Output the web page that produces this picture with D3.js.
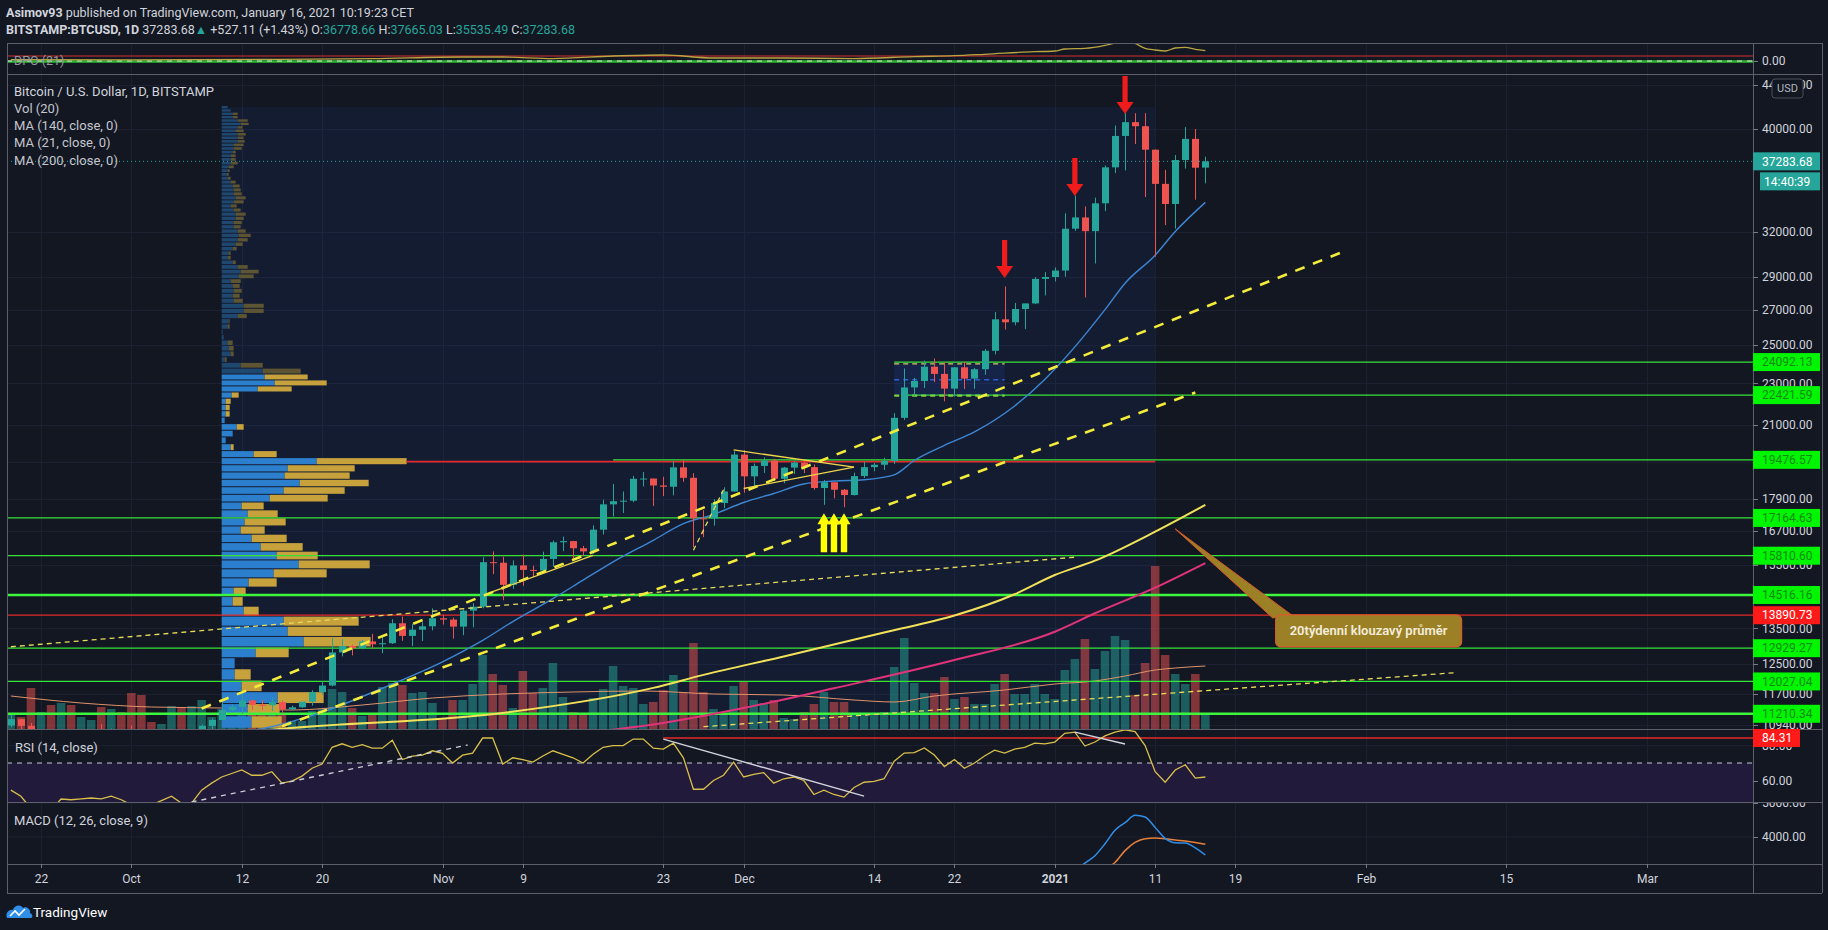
<!DOCTYPE html>
<html>
<head>
<meta charset="utf-8">
<title>BTCUSD 1D</title>
<script src="https://cdn.jsdelivr.net/npm/d3@7/dist/d3.min.js"></script>
<style>
  html, body { margin: 0; padding: 0; background: #131722; overflow: hidden; }
  svg { display: block; }
  text { font-family: Roboto, "Open Sans", sans-serif; }
</style>
</head>
<body>
<svg id="chart" width="1828" height="930"></svg>
<script>
// ---------- data ----------
var firstDay = "2020-09-19", lastDay = "2021-01-16";

var opens = [10930,11080,10920,10420,10530,10240,10740,10690,10730,10775,
  10700,10840,10780,10620,10570,10550,10670,10790,10600,10670,
  10920,11060,11300,11380,11540,11430,11420,11500,11320,11370,
  11510,11750,11920,12810,12990,12930,13120,13040,13070,13650,
  13280,13460,13560,13800,13760,13550,14030,14150,15590,15570,
  14840,15480,15330,15310,15700,16280,16320,16070,15960,16730,
  17680,17800,17820,18690,18700,18420,18370,19160,18730,17150,
  17140,17730,18180,19700,18790,19220,19450,18690,19150,19360,
  19170,18320,18550,18250,18040,18800,19170,19270,19430,21340,
  22800,23120,23850,23480,22740,23820,23240,23720,24690,26440,
  26270,27040,27370,28870,28990,29400,32200,33000,32030,34030,
  36800,39400,40600,40240,38240,35500,33980,37390,39150,36778.66];
var highs = [11180,11080,10990,10580,10540,10780,10790,10800,10800,10960,
  10860,10850,10930,10670,10600,10690,10800,10800,10680,10950,
  11100,11480,11440,11720,11560,11550,11620,11540,11410,11490,
  11800,12030,13220,13190,13030,13170,13340,13250,13770,13850,
  13640,13680,14100,13900,13820,14070,14260,15760,15960,15770,
  15650,15850,15470,15950,16340,16480,16330,16150,16890,17860,
  18480,18180,18810,18970,18700,18770,19420,19480,18920,17460,
  17880,18350,19850,19890,19320,19580,19520,19180,19420,19410,
  19280,18640,18560,18280,18940,19400,19340,19570,21560,23760,
  23280,24170,24280,24080,23830,24110,23790,24780,26870,28400,
  27400,27370,28990,29300,29600,33300,34600,33800,34450,36950,
  40300,41500,41400,41400,38260,36600,37800,40170,40000,37665.03];
var lows = [10890,10760,10290,10360,10140,10200,10580,10650,10600,10650,
  10640,10650,10450,10370,10500,10520,10600,10520,10560,10550,
  10830,11060,11280,11210,11300,11300,11280,11220,11300,11350,
  11410,11690,11900,12700,12730,12900,12920,12790,13050,13140,
  12990,13130,13440,13610,13200,13300,13530,14100,15190,14350,
  14710,14810,15090,15280,15440,15970,15710,15800,15870,16560,
  17220,17350,17760,18380,17620,18000,18030,18570,16100,16460,
  16880,17540,18180,18130,18340,18930,18600,18510,18890,18920,
  18250,17660,17910,17570,18020,18720,19000,19050,19300,21240,
  22350,22770,23070,22120,22350,22720,22730,23440,24500,25860,
  26100,25880,27330,27850,28710,29000,32050,27730,29860,33450,
  36350,36550,38720,34500,30300,32450,32200,36700,34300,35535.49];
var closes = [11080,10920,10420,10530,10240,10740,10690,10730,10775,10700,
  10840,10780,10620,10570,10550,10670,10790,10600,10670,10920,
  11060,11300,11380,11540,11430,11420,11500,11320,11370,11510,
  11750,11920,12810,12990,12930,13120,13040,13070,13650,13280,
  13460,13560,13800,13760,13550,14030,14150,15590,15570,14840,
  15480,15330,15310,15700,16280,16320,16070,15960,16730,17680,
  17800,17820,18690,18700,18420,18370,19160,18730,17150,17140,
  17730,18180,19700,18790,19220,19450,18690,19150,19360,19170,
  18320,18550,18250,18040,18800,19170,19270,19430,21340,22800,
  23120,23850,23480,22740,23820,23240,23720,24690,26440,26270,
  27040,27370,28870,28990,29400,32200,33000,32030,34030,36800,
  39400,40600,40240,38240,35500,33980,37390,39150,36770,37283.68];
var volumes = [3750,3000,10250,4250,6000,6500,6000,3000,2250,5500,5000,4250,9000,8500,1750,1250,5750,5500,5750,7250,
  3000,5000,3000,5500,3750,3500,4000,3750,2000,2000,4500,5000,10000,9250,5250,3250,3750,10500,11500,11000,
  9000,9250,6500,2500,7250,7250,11250,18500,13750,11000,5250,14500,9000,10250,16500,8000,4250,3500,7750,10000,
  15750,10750,10250,6250,6750,9750,13500,9250,21500,9250,5000,3750,10750,11750,7250,6500,7250,2750,2500,4250,
  6250,9250,6750,6750,3750,4000,3500,4250,15500,22750,11500,9000,9000,13000,7500,8000,6250,6250,11250,13750,
  8750,8750,11250,8750,7500,14750,17500,22500,15000,19500,23250,22250,8500,16500,40750,18500,13750,11250,13750,3500];
var rsiValues = [54.5,51,44,46,43,49.4,49,49.5,50,49.5,51,49,46,45,46,48.5,51,47,47,54.5,
  58.5,62,64,66,63,63,65,58.5,59.7,62.5,67,69.4,79,81,79,80.5,78.5,78.5,83,72,
  74,74.5,77,75.5,70,74.5,75.7,84.3,84.3,69.4,73,72,70.5,74,77,75,73,70,75,79,
  80,80,83.7,83.7,78.5,78,81.4,73,55,55,60,63,70.5,62,63.5,64.5,58.5,61,62,60,
  52,54.5,52,50.5,56,59,59.5,61,71,75.7,76,78.6,74.6,68,72,67,70,74,77.4,75.7,
  78,79,81.4,81,82,87,87.7,79.7,82,85.5,87.7,89,88,80,65,59,66,69,61.4,62];

// moving averages [date, value]
var ma140 = [["2020-09-19",10150],["2020-10-01",10450],["2020-10-16",10850],["2020-11-07",11230],
  ["2020-11-22",11860],["2020-11-27",12200],["2020-12-05",12700],["2020-12-15",13380],["2020-12-22",13880],
  ["2020-12-28",14540],["2021-01-01",15160],["2021-01-05",15640],["2021-01-11",16660],["2021-01-16",17660]];
var ma200 = [["2020-10-01",9800],["2020-11-01",10350],["2020-11-17",10800],["2020-11-22",10950],
  ["2020-12-01",11350],["2020-12-10",11850],["2020-12-22",12600],["2021-01-01",13400],["2021-01-05",13950],
  ["2021-01-11",14750],["2021-01-16",15560]];
var ma21 = [["2020-10-08",10700],["2020-10-14",10850],["2020-10-20",11250],["2020-10-26",11850],["2020-11-01",12550],
  ["2020-11-05",13150],["2020-11-08",13700],["2020-11-12",14400],["2020-11-15",14990],["2020-11-18",15600],
  ["2020-11-22",16350],["2020-11-25",16950],["2020-11-28",17300],["2020-12-01",17750],["2020-12-04",18100],
  ["2020-12-07",18480],["2020-12-10",18600],["2020-12-13",18650],["2020-12-16",18850],["2020-12-18",19450],
  ["2020-12-21",20100],["2020-12-24",20700],["2020-12-28",21900],["2020-12-31",23200],["2021-01-03",24900],
  ["2021-01-06",27000],["2021-01-08",28600],["2021-01-11",30400],["2021-01-13",32000],["2021-01-16",34100]];
var volMa = [["2020-09-19",8250],["2020-09-26",6500],["2020-10-03",5500],["2020-10-10",5250],["2020-10-17",4750],
  ["2020-10-24",6000],["2020-10-31",7750],["2020-11-07",8750],["2020-11-14",9250],["2020-11-21",9500],
  ["2020-11-28",8750],["2020-12-05",8500],["2020-12-12",7250],["2020-12-16",6750],["2020-12-20",8250],
  ["2020-12-27",9750],["2021-01-01",11250],["2021-01-05",12000],["2021-01-08",13250],["2021-01-11",14750],
  ["2021-01-13",15250],["2021-01-16",15750]];

// DPO / MACD [date, value]
var dpo = [["2020-09-19",700],["2020-10-01",600],["2020-10-15",800],["2020-10-25",1200],["2020-11-03",2000],
  ["2020-11-07",2000],["2020-11-12",1200],["2020-11-18",2500],["2020-11-23",3000],["2020-11-28",1500],
  ["2020-12-05",1500],["2020-12-12",1200],["2020-12-18",2200],["2020-12-22",2650],["2020-12-25",3350],
  ["2020-12-30",4650],["2021-01-01",5000],["2021-01-02",6000],["2021-01-04",6300],["2021-01-06",7800],
  ["2021-01-07",9000],["2021-01-08",10500],["2021-01-09",8800],["2021-01-10",6300],["2021-01-11",5500],
  ["2021-01-12",5000],["2021-01-13",6500],["2021-01-14",6800],["2021-01-15",5800],["2021-01-16",5200]];
var macdLine = [["2021-01-01",2700],["2021-01-02",2850],["2021-01-03",3000],["2021-01-04",3230],["2021-01-05",3450],
  ["2021-01-06",3800],["2021-01-07",4200],["2021-01-08",4420],["2021-01-09",4640],["2021-01-10",4590],
  ["2021-01-11",4280],["2021-01-12",3960],["2021-01-13",3830],["2021-01-14",3820],["2021-01-15",3680],["2021-01-16",3470]];
var macdSignal = [["2021-01-04",2750],["2021-01-05",2900],["2021-01-06",3050],["2021-01-07",3250],["2021-01-08",3600],
  ["2021-01-09",3840],["2021-01-10",3950],["2021-01-11",3970],["2021-01-12",3945],["2021-01-13",3910],
  ["2021-01-14",3880],["2021-01-15",3840],["2021-01-16",3790]];

// fixed range volume profile (rows of 300 USD from vpBase upwards)
var vpFrom = "2020-10-10", vpTo = "2021-01-11", vpHigh = 41950, vpBase = 10550, vpStep = 300, vpValueTop = 23450;
var vpUp = [25,30,26,56,20,13,13,34,82,66, 62,22,11,12,27,52,77,55,39,30, 19,23,26,20,48,62,78,63,66,95,
  32,9,4,11,15,3,4,4,4,10, 36,53,43,41,19,3,9,7,6,2, 1,6,7,16,22,22,12,11,12,11,
  9,17,19,16,11,6,7,11,14,16, 17,16,12,12,14,14,12,9,12,14, 12,12,11,9,6,5,6,7,9,9,
  9,11,12,12,16,16,16,14,16,19, 16,11,11,9,6];
var vpDown = [25,30,32,46,20,16,0,33,67,54, 75,15,10,12,28,53,71,41,42,35, 24,41,30,22,58,61,69,65,67,90,
  23,3,0,0,7,0,4,4,5,7, 34,52,43,38,22,2,3,5,5,0, 0,2,1,9,20,20,9,7,8,7,
  10,15,18,10,3,3,2,4,7,10, 12,8,7,8,8,10,7,6,10,10, 8,7,7,5,3,2,2,5,7,5,
  5,3,8,10,7,6,8,8,5,8, 10,5,5,0,0];

// horizontal levels
var greenLevels = [24092.13, 22421.59, 19476.57, 17164.63, 15810.60, 14516.16, 12929.27, 12027.04, 11210.34];
var greenLevelStarts = ["2020-12-16", "2020-12-17", "2020-11-18", null, null, null, null, null, null];
var redLevels = [13890.73];
var rsiLevel = 84.31, rsiLevelStart = "2020-11-23";
var lastPrice = 37283.68, countdown = "14:40:39";

// drawings: [date, price]
var thickDashed = [
  { from: ["2020-10-08", 11340], to: ["2021-01-30", 30700] },
  { from: ["2020-10-16", 10910], to: ["2021-01-15", 22550] }];
var thinDashed = [
  { from: ["2020-09-19", 12970], to: ["2021-01-03", 15760] },
  { from: ["2020-11-27", 10900], to: ["2021-02-10", 12260] },
  { from: ["2020-11-26", 16000], to: ["2020-11-29", 18250] }];
var thinSolid = [
  { from: ["2020-11-30", 19900], to: ["2020-12-12", 19170] },
  { from: ["2020-12-01", 18300], to: ["2020-12-12", 19170] },
  { from: ["2020-11-06", 14620], to: ["2020-11-16", 15820] }];
var rangeBox = { from: "2020-12-16", to: "2020-12-27", top: 24000, mid: 23180, bottom: 22400 };
var downArrows = [["2020-12-27", 28930], ["2021-01-03", 34570], ["2021-01-08", 41330]];
var upArrows = [["2020-12-09", 17340], ["2020-12-10", 17340], ["2020-12-11", 17340]];
var callout = { text: "20týdenní klouzavý průměr", tip: ["2021-01-13", 16760], box: ["2021-01-23", 13900] };
var rsiDashed = [{ from: ["2020-10-07", 47.7], to: ["2020-11-03T12:00", 80.3] }];
var rsiSolid = [
  { from: ["2020-11-23", 83.7], to: ["2020-12-13", 51.1] },
  { from: ["2021-01-03", 87.7], to: ["2021-01-08", 80.9] }];

// axes
var priceTicks = [44000, 40000, 32000, 29000, 27000, 25000, 23000, 21000, 19400, 17900, 16700, 15500, 14500, 13500, 12500, 11700, 10940];
var rsiTicks = [80, 60];
var macdTicks = [5000, 4000];
var timeTickDates = ["2020-09-22","2020-10-01","2020-10-12","2020-10-20","2020-11-01","2020-11-09","2020-11-23","2020-12-01",
  "2020-12-14","2020-12-22","2021-01-01","2021-01-11","2021-01-19","2021-02-01","2021-02-15","2021-03-01"];
var timeTickLabels = ["22","Oct","12","20","Nov","9","23","Dec","14","22","2021","11","19","Feb","15","Mar"];

// ---------- layout ----------
var W = 1828, H = 930, L = 7, R = 1822, AX = 1753;
var P = { dpo: [43, 74], main: [74, 729], rsi: [729, 802], macd: [802, 864], time: [864, 893] };
var col = {
  bg: "#131722", text: "#d1d4dc", dim: "#b2b5be", grid: "#1c2030", border: "#5d606b",
  up: "#26a69a", down: "#ef5350", lime: "#00f500", limeLine: "#36e336", red: "#f21c1c"
};

function parse(s) { return new Date(s.length > 10 ? s + "Z" : s + "T00:00:00Z"); }
var days = d3.utcDays(parse(firstDay), d3.utcDay.offset(parse(lastDay), 1));

var x = d3.scaleUtc().domain([parse("2020-09-22"), parse("2021-03-01")]).range([41, 1647]);
var step = x(parse("2020-09-23")) - x(parse("2020-09-22"));
var y = d3.scaleLog().domain([10940, 40000]).range([725, 129]);
var yVol = d3.scaleLinear().domain([0, d3.max(volumes)]).range([P.main[1], 566]);
var yRsi = d3.scaleLinear().domain([60, 84.31]).range([780.5, 738]);
var yMacd = d3.scaleLinear().domain([4000, 5000]).range([837, 803]);
var yDpo = d3.scaleLinear().domain([0, 10000]).range([61, 41]);

var svg = d3.select("#chart");
svg.append("rect").attr("width", W).attr("height", H).attr("fill", col.bg);

var defs = svg.append("defs");
Object.keys(P).forEach(function (k) {
  defs.append("clipPath").attr("id", "clip-" + k).append("rect")
    .attr("x", L + 1).attr("y", P[k][0] + 1).attr("width", AX - L - 1).attr("height", P[k][1] - P[k][0] - 1);
});
function pane(k) { return svg.append("g").attr("clip-path", "url(#clip-" + k + ")"); }
function seg(g, s, sx, sy) {
  return g.append("line")
    .attr("x1", sx(parse(s.from[0]))).attr("y1", sy(s.from[1]))
    .attr("x2", sx(parse(s.to[0]))).attr("y2", sy(s.to[1]));
}
function pathOf(sy) {
  return d3.line().x(function (d) { return x(parse(d[0])); }).y(function (d) { return sy(d[1]); }).curve(d3.curveMonotoneX);
}

// ---------- grid ----------
var grid = svg.append("g").attr("stroke", col.grid).attr("stroke-width", 1);
timeTickDates.forEach(function (d) {
  var gx = Math.round(x(parse(d))) + 0.5;
  grid.append("line").attr("x1", gx).attr("x2", gx).attr("y1", P.dpo[0]).attr("y2", P.macd[1]);
});
priceTicks.forEach(function (p) {
  var gy = Math.round(y(p)) + 0.5;
  grid.append("line").attr("x1", L).attr("x2", AX).attr("y1", gy).attr("y2", gy);
});
rsiTicks.forEach(function (v) {
  grid.append("line").attr("x1", L).attr("x2", AX).attr("y1", yRsi(v)).attr("y2", yRsi(v));
});
macdTicks.forEach(function (v) {
  grid.append("line").attr("x1", L).attr("x2", AX).attr("y1", yMacd(v)).attr("y2", yMacd(v));
});

// ---------- main pane ----------
var gMain = pane("main");
var vpX0 = x(parse(vpFrom)), vpX1 = x(parse(vpTo));
gMain.append("rect").attr("x", vpX0).attr("y", y(vpHigh)).attr("width", vpX1 - vpX0)
  .attr("height", P.main[1] - y(vpHigh)).attr("fill", "rgba(41,98,255,0.07)");

// volume
gMain.append("g").selectAll("rect").data(days).join("rect")
  .attr("x", function (d) { return x(d) - (step - 1.5) / 2; })
  .attr("width", step - 1.5)
  .attr("y", function (d, i) { return yVol(volumes[i]); })
  .attr("height", function (d, i) { return P.main[1] - yVol(volumes[i]); })
  .attr("fill", function (d, i) { return closes[i] >= opens[i] ? "rgba(38,166,154,0.5)" : "rgba(239,83,80,0.5)"; });
gMain.append("path").attr("d", pathOf(yVol)(volMa)).attr("fill", "none").attr("stroke", "#e0946a").attr("stroke-width", 1);

// volume profile
var vpTotals = vpUp.map(function (v, i) { return v + vpDown[i]; });
var xv = d3.scaleLinear().domain([0, d3.max(vpTotals)]).range([0, 185]);
var gVp = gMain.append("g");
vpUp.forEach(function (v, i) {
  var lo = vpBase + i * vpStep, hi = lo + vpStep;
  var y0 = y(lo), y1 = y(hi), bright = lo < vpValueTop;
  var hgt = Math.max(0.8, y0 - y1 - 1);
  gVp.append("rect").attr("x", vpX0).attr("y", y1).attr("width", xv(v)).attr("height", hgt)
    .attr("fill", bright ? "#2b7fcd" : "#1f4870");
  gVp.append("rect").attr("x", vpX0 + xv(v)).attr("y", y1).attr("width", xv(vpDown[i])).attr("height", hgt)
    .attr("fill", bright ? "#c6a13c" : "#5d5433");
});
var poc = d3.maxIndex(vpTotals);
var pocPrice = vpBase + (poc + 0.5) * vpStep;
gMain.append("line").attr("x1", vpX0 + xv(vpTotals[poc])).attr("x2", vpX1)
  .attr("y1", y(pocPrice)).attr("y2", y(pocPrice)).attr("stroke", "#e0282e").attr("stroke-width", 1.6);

// horizontal levels
var thickLevels = [14516.16, 11210.34];
greenLevels.forEach(function (p, i) {
  var s = greenLevelStarts[i] ? x(parse(greenLevelStarts[i])) : L;
  var thick = thickLevels.indexOf(p) >= 0;
  gMain.append("line").attr("x1", s).attr("x2", AX).attr("y1", y(p)).attr("y2", y(p))
    .attr("stroke", thick ? "#3cf53c" : col.limeLine).attr("stroke-width", thick ? 2.6 : 1.2);
});
redLevels.forEach(function (p) {
  gMain.append("line").attr("x1", L).attr("x2", AX).attr("y1", y(p)).attr("y2", y(p))
    .attr("stroke", "#e52a2a").attr("stroke-width", 1.2);
});

// consolidation box
var bx0 = x(parse(rangeBox.from)), bx1 = x(parse(rangeBox.to));
gMain.append("rect").attr("x", bx0).attr("y", y(rangeBox.top)).attr("width", bx1 - bx0)
  .attr("height", y(rangeBox.bottom) - y(rangeBox.top)).attr("fill", "rgba(41,98,255,0.12)");
[[rangeBox.top, "#d9c46a", 1.3], [rangeBox.mid, "#2f5fd0", 1.5], [rangeBox.bottom, "#7fd23c", 2.2]].forEach(function (b) {
  gMain.append("line").attr("x1", bx0).attr("x2", bx1).attr("y1", y(b[0])).attr("y2", y(b[0]))
    .attr("stroke", b[1]).attr("stroke-width", b[2]).attr("stroke-dasharray", "5,4");
});

// moving averages
gMain.append("path").attr("d", pathOf(y)(ma200)).attr("fill", "none").attr("stroke", "#e0337a").attr("stroke-width", 2);
gMain.append("path").attr("d", pathOf(y)(ma140)).attr("fill", "none").attr("stroke", "#f2e25a").attr("stroke-width", 2);
gMain.append("path").attr("d", pathOf(y)(ma21)).attr("fill", "none").attr("stroke", "#3d86d4").attr("stroke-width", 1.4);

// candles
var gC = gMain.append("g");
gC.selectAll("line").data(days).join("line")
  .attr("x1", function (d) { return Math.round(x(d)) + 0.5; })
  .attr("x2", function (d) { return Math.round(x(d)) + 0.5; })
  .attr("y1", function (d, i) { return y(highs[i]); })
  .attr("y2", function (d, i) { return y(lows[i]); })
  .attr("stroke", function (d, i) { return closes[i] >= opens[i] ? col.up : col.down; });
gC.selectAll("rect").data(days).join("rect")
  .attr("x", function (d) { return Math.round(x(d)) - 3; })
  .attr("width", 7)
  .attr("y", function (d, i) { return y(Math.max(opens[i], closes[i])); })
  .attr("height", function (d, i) { return Math.max(1, y(Math.min(opens[i], closes[i])) - y(Math.max(opens[i], closes[i]))); })
  .attr("fill", function (d, i) { return closes[i] >= opens[i] ? col.up : col.down; });

// last price line
gMain.append("line").attr("x1", L).attr("x2", AX).attr("y1", y(lastPrice)).attr("y2", y(lastPrice))
  .attr("stroke", col.up).attr("stroke-dasharray", "1,3");

// trend lines
thickDashed.forEach(function (s) {
  seg(gMain, s, x, y).attr("stroke", "#f4ec3a").attr("stroke-width", 2.6).attr("stroke-dasharray", "10,9");
});
thinDashed.forEach(function (s) {
  seg(gMain, s, x, y).attr("stroke", "#e8dc5a").attr("stroke-width", 1.3).attr("stroke-dasharray", "5,4");
});
thinSolid.forEach(function (s) {
  seg(gMain, s, x, y).attr("stroke", "#f0d64a").attr("stroke-width", 1.3);
});

// arrows
downArrows.forEach(function (a) {
  var cx = x(parse(a[0])), ty = y(a[1]);
  gMain.append("polygon").attr("fill", "#f01c1c").attr("points", [
    [cx, ty], [cx - 8.5, ty - 12], [cx - 2.6, ty - 12], [cx - 2.6, ty - 38],
    [cx + 2.6, ty - 38], [cx + 2.6, ty - 12], [cx + 8.5, ty - 12]].join(" "));
});
upArrows.forEach(function (a) {
  var cx = x(parse(a[0])), ty = y(a[1]);
  gMain.append("polygon").attr("fill", "#ffff00").attr("points", [
    [cx, ty], [cx + 6.5, ty + 11], [cx + 3.2, ty + 11], [cx + 3.2, ty + 39],
    [cx - 3.2, ty + 39], [cx - 3.2, ty + 11], [cx - 6.5, ty + 11]].join(" "));
});

// callout
var tipX = x(parse(callout.tip[0])), tipY = y(callout.tip[1]);
var boxX = x(parse(callout.box[0])), boxY = y(callout.box[1]);
gMain.append("polygon").attr("points", [[tipX, tipY], [boxX - 3, boxY + 3], [boxX + 16, boxY]].join(" "))
  .attr("fill", "#9c8026").attr("stroke", "#d95a2c").attr("stroke-width", 1);
gMain.append("rect").attr("x", boxX).attr("y", boxY).attr("width", 186).attr("height", 32).attr("rx", 5)
  .attr("fill", "#9c8026").attr("stroke", "#d95a2c").attr("stroke-width", 1.2);
gMain.append("text").attr("x", boxX + 93).attr("y", boxY + 16).attr("dy", "0.35em").attr("text-anchor", "middle")
  .attr("fill", "#f3eddc").attr("font-size", 13).attr("font-weight", 600).text(callout.text);

// legend
var legend = ["Bitcoin / U.S. Dollar, 1D, BITSTAMP", "Vol (20)", "MA (140, close, 0)", "MA (21, close, 0)", "MA (200, close, 0)"];
legend.forEach(function (t, i) {
  svg.append("text").attr("x", 14).attr("y", 91 + i * 17.3).attr("dy", "0.35em")
    .attr("fill", i === 0 ? col.text : "#c3c6ce").attr("font-size", 13).text(t);
});

// ---------- DPO pane ----------
var gD = pane("dpo");
gD.append("line").attr("x1", L).attr("x2", AX).attr("y1", yDpo(2500)).attr("y2", yDpo(2500)).attr("stroke", "#d32f2f").attr("stroke-width", 1.2);
gD.append("line").attr("x1", L).attr("x2", AX).attr("y1", yDpo(0) + 0.5).attr("y2", yDpo(0) + 0.5).attr("stroke", "#2fb82f").attr("stroke-width", 2.6);
gD.append("line").attr("x1", L).attr("x2", AX).attr("y1", yDpo(0)).attr("y2", yDpo(0)).attr("stroke", "#e6e6e6").attr("stroke-width", 1).attr("stroke-dasharray", "5,5");
gD.append("path").attr("d", pathOf(yDpo)(dpo)).attr("fill", "none").attr("stroke", "#bba443").attr("stroke-width", 1.3);
svg.append("text").attr("x", 14).attr("y", 61).attr("dy", "0.35em").attr("fill", "#9598a1").attr("font-size", 12.5).text("DPO (21)");

// ---------- RSI pane ----------
var gR = pane("rsi");
gR.append("rect").attr("x", L).attr("width", AX - L).attr("y", yRsi(70)).attr("height", yRsi(30) - yRsi(70)).attr("fill", "#221a3a");
gR.append("line").attr("x1", L).attr("x2", AX).attr("y1", yRsi(70)).attr("y2", yRsi(70))
  .attr("stroke", "#c9ccd4").attr("stroke-dasharray", "5,5");
gR.append("line").attr("x1", x(parse(rsiLevelStart))).attr("x2", AX).attr("y1", yRsi(rsiLevel)).attr("y2", yRsi(rsiLevel))
  .attr("stroke", "#e52a2a").attr("stroke-width", 1.3);
gR.append("path").attr("d", d3.line().x(function (d) { return x(d); }).y(function (d, i) { return yRsi(rsiValues[i]); })(days))
  .attr("fill", "none").attr("stroke", "#d9c04a").attr("stroke-width", 1.3);
rsiDashed.forEach(function (s) { seg(gR, s, x, yRsi).attr("stroke", "#c9ccd4").attr("stroke-width", 1.4).attr("stroke-dasharray", "5,5"); });
rsiSolid.forEach(function (s) { seg(gR, s, x, yRsi).attr("stroke", "#d1d4dc").attr("stroke-width", 1.4); });
svg.append("text").attr("x", 15).attr("y", 747).attr("dy", "0.35em").attr("fill", col.text).attr("font-size", 13).text("RSI (14, close)");

// ---------- MACD pane ----------
var gM = pane("macd");
gM.append("path").attr("d", pathOf(yMacd)(macdSignal)).attr("fill", "none").attr("stroke", "#e6803a").attr("stroke-width", 1.5);
gM.append("path").attr("d", pathOf(yMacd)(macdLine)).attr("fill", "none").attr("stroke", "#2f8fe8").attr("stroke-width", 1.5);
svg.append("text").attr("x", 14).attr("y", 820).attr("dy", "0.35em").attr("fill", col.text).attr("font-size", 13).text("MACD (12, 26, close, 9)");

// ---------- frame ----------
var fr = svg.append("g").attr("stroke", col.border).attr("stroke-width", 1);
[P.dpo[0], P.main[0], P.rsi[0], P.macd[0], P.time[0], P.time[1]].forEach(function (v) {
  fr.append("line").attr("x1", L).attr("x2", R).attr("y1", v + 0.5).attr("y2", v + 0.5);
});
[L, AX, R].forEach(function (v) {
  fr.append("line").attr("x1", v + 0.5).attr("x2", v + 0.5).attr("y1", P.dpo[0]).attr("y2", P.time[1]);
});

// ---------- price axis ----------
var ax = svg.append("g").attr("font-size", 12);
function tick(yy) {
  ax.append("line").attr("x1", AX).attr("x2", AX + 5).attr("y1", Math.round(yy) + 0.5).attr("y2", Math.round(yy) + 0.5).attr("stroke", "#787b86");
}
function label(yy, t, fill, lo, hi) {
  if (yy < lo || yy > hi) return;
  var g = ax.append("g");
  g.append("text").attr("x", AX + 9).attr("y", yy).attr("dy", "0.35em").attr("fill", fill).text(t);
}
defs.append("clipPath").attr("id", "clip-axmain").append("rect").attr("x", AX).attr("y", P.main[0]).attr("width", R - AX).attr("height", P.main[1] - P.main[0]);
defs.append("clipPath").attr("id", "clip-axmacd").append("rect").attr("x", AX).attr("y", P.macd[0] + 1).attr("width", R - AX).attr("height", P.macd[1] - P.macd[0] - 1);

var axMain = ax.append("g").attr("clip-path", "url(#clip-axmain)");
priceTicks.forEach(function (p) {
  tick(y(p));
  axMain.append("text").attr("x", AX + 9).attr("y", y(p)).attr("dy", "0.35em").attr("fill", col.text).text(d3.format(".2f")(p));
});
// USD badge over the top label
ax.append("rect").attr("x", 1772).attr("y", 79).attr("width", 31).attr("height", 19).attr("rx", 3)
  .attr("fill", col.bg).attr("stroke", "#4a4e5a");
ax.append("text").attr("x", 1787.5).attr("y", 88.5).attr("dy", "0.35em").attr("text-anchor", "middle")
  .attr("fill", "#b2b5be").attr("font-size", 11).text("USD");

function box(yy, t, bg, fg, w, x0) {
  x0 = x0 || AX;
  ax.append("rect").attr("x", x0).attr("y", yy - 9).attr("width", w).attr("height", 18).attr("fill", bg);
  ax.append("text").attr("x", x0 + (x0 === AX ? 9 : 4)).attr("y", yy).attr("dy", "0.35em").attr("fill", fg).text(t);
}
greenLevels.forEach(function (p) { box(y(p), d3.format(".2f")(p), col.lime, "#138a13", 67); });
redLevels.forEach(function (p) { box(y(p), d3.format(".2f")(p), "#ff1a1a", "#ffffff", 67); });
box(y(lastPrice), d3.format(".2f")(lastPrice), "#26a69a", "#ffffff", 67);
box(y(lastPrice) + 20, countdown, "#26a69a", "#ffffff", 60, 1760);

// DPO axis
tick(yDpo(0));
ax.append("text").attr("x", AX + 9).attr("y", yDpo(0)).attr("dy", "0.35em").attr("fill", col.text).text("0.00");
// RSI axis
rsiTicks.forEach(function (v) {
  tick(yRsi(v));
  ax.append("text").attr("x", AX + 9).attr("y", yRsi(v)).attr("dy", "0.35em").attr("fill", col.text).text(d3.format(".2f")(v));
});
box(yRsi(rsiLevel), d3.format(".2f")(rsiLevel), "#ff1a1a", "#ffffff", 47);
// MACD axis
var axMacd = ax.append("g").attr("clip-path", "url(#clip-axmacd)");
macdTicks.forEach(function (v) {
  tick(yMacd(v));
  axMacd.append("text").attr("x", AX + 9).attr("y", yMacd(v)).attr("dy", "0.35em").attr("fill", col.text).text(d3.format(".2f")(v));
});

// ---------- time axis ----------
timeTickDates.forEach(function (d, i) {
  var tx = Math.round(x(parse(d))) + 0.5;
  svg.append("line").attr("x1", tx).attr("x2", tx).attr("y1", P.time[0]).attr("y2", P.time[0] + 4).attr("stroke", "#787b86");
  svg.append("text").attr("x", tx).attr("y", 879).attr("dy", "0.35em").attr("text-anchor", "middle")
    .attr("fill", col.text).attr("font-size", 12)
    .attr("font-weight", timeTickLabels[i] === "2021" ? 700 : 400).text(timeTickLabels[i]);
});

// ---------- header ----------
var h1 = svg.append("text").attr("x", 6).attr("y", 13).attr("dy", "0.35em").attr("fill", col.text).attr("font-size", 12.5);
h1.append("tspan").attr("font-weight", 700).text("Asimov93");
h1.append("tspan").text(" published on TradingView.com, January 16, 2021 10:19:23 CET");
var h2 = svg.append("text").attr("x", 6).attr("y", 30).attr("dy", "0.35em").attr("fill", col.text).attr("font-size", 12.5);
h2.append("tspan").attr("font-weight", 700).text("BITSTAMP:BTCUSD, 1D");
h2.append("tspan").text(" 37283.68");
h2.append("tspan").attr("fill", col.up).text("▲");
h2.append("tspan").text(" +527.11 (+1.43%) O:");
h2.append("tspan").attr("fill", col.up).text("36778.66");
h2.append("tspan").text(" H:");
h2.append("tspan").attr("fill", col.up).text("37665.03");
h2.append("tspan").text(" L:");
h2.append("tspan").attr("fill", col.up).text("35535.49");
h2.append("tspan").text(" C:");
h2.append("tspan").attr("fill", col.up).text("37283.68");

// ---------- footer ----------
var logo = svg.append("g").attr("transform", "translate(6,903)");
logo.append("path").attr("d", "M1,15 C-1,10 3,6 7,7 C8,2 15,1 17,5 C20,3 25,6 24,10 C27,11 27,15 25,15 Z").attr("fill", "#2f8fe8");
logo.append("polyline").attr("points", "4,13 9,8 13,12 19,6").attr("fill", "none").attr("stroke", "#ffffff").attr("stroke-width", 1.6);
svg.append("text").attr("x", 33).attr("y", 912).attr("dy", "0.35em").attr("fill", "#ffffff").attr("font-size", 13.5).text("TradingView");
</script>
</body>
</html>
